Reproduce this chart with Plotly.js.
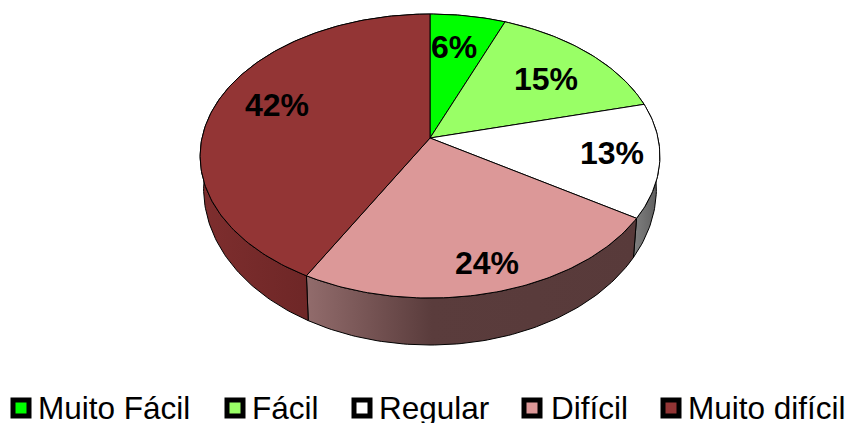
<!DOCTYPE html>
<html>
<head>
<meta charset="utf-8">
<script src="https://cdn.plot.ly/plotly-3.0.1.min.js"></script>
<style>html,body{margin:0;padding:0;background:#fff}#chart{width:851px;height:423px}</style>
</head>
<body>
<div id="chart"></div>
<script>
// Survey answers, percent of respondents
const categories = ['Muito Fácil', 'Fácil', 'Regular', 'Difícil', 'Muito difícil'];
const values = [6, 15, 13, 24, 42];
const faceColors = ['#00FF00', '#99FF66', '#FFFFFF', '#DC9898', '#933535'];

// Side wall shading per slice, left to right
const wallScales = [
  [[0, '#008800'], [1, '#006600']],
  [[0, '#557f33'], [1, '#446622']],
  [[0, '#808080'], [1, '#5c5c5c']],
  [[0, '#926c6c'], [0.38, '#5a3c3c'], [1, '#583a3a']],
  [[0, '#7e2e2e'], [1, '#5c1e1e']]
];

// Percent label and key placement
const labelX = [454, 546, 612, 487, 277];
const labelY = [47, 79, 153, 263, 105];
const keyX = [21, 235, 362, 532, 671];
const keyTextX = [36, 250, 377, 549, 686];
const keyY = 408;

// Tilted disc: projection of a unit circle onto the page
const apexX = 430, apexY = 138, radiusX = 228, radiusY = 139.7, tilt = 0.127;
function topRim(turn) {
  const a = turn * 2 * Math.PI, u = Math.sin(a), v = Math.cos(a), d = 1 + tilt * v;
  return [apexX + radiusX * u / d, apexY - radiusY * v / d, v];
}
function bottomRim(turn) {
  const [x, y, v] = topRim(turn);
  return [apexX + (x - apexX) * 0.985, y + 30 - 17 * v];
}
function arc(rim, from, to) {
  const n = Math.max(2, Math.ceil((to - from) * 360)), pts = [];
  for (let i = 0; i <= n; i++) pts.push(rim(from + (to - from) * i / n));
  return pts;
}

const total = values.reduce((s, v) => s + v, 0);
let running = 0;
const spans = values.map(v => { const s = [running / total, (running + v) / total]; running += v; return s; });

const walls = spans.map(([from, to], i) => {
  const pts = arc(topRim, from, to).concat(arc(bottomRim, from, to).reverse());
  pts.push(pts[0]);
  return {
    type: 'scatter', mode: 'lines', x: pts.map(p => p[0]), y: pts.map(p => p[1]),
    fill: 'toself', fillgradient: {type: 'horizontal', colorscale: wallScales[i]},
    line: {color: '#000', width: 1}, hoverinfo: 'skip'
  };
});

const faces = spans.map(([from, to], i) => {
  const pts = [[apexX, apexY]].concat(arc(topRim, from, to), [[apexX, apexY]]);
  return {
    type: 'scatter', mode: 'lines', x: pts.map(p => p[0]), y: pts.map(p => p[1]),
    fill: 'toself', fillcolor: faceColors[i], line: {color: '#000', width: 1},
    name: categories[i], hoverinfo: 'name'
  };
});

const keys = {
  type: 'scatter', mode: 'markers', x: keyX, y: keyX.map(() => keyY), hoverinfo: 'skip',
  marker: {symbol: 'square', size: 16, color: faceColors, line: {color: '#000', width: 5}}
};

const annotations = values.map((v, i) => ({
  x: labelX[i], y: labelY[i], text: '<b>' + v + '%</b>', showarrow: false,
  font: {family: 'Liberation Sans, Arial, sans-serif', size: 32, color: '#000'}
})).concat(categories.map((c, i) => ({
  x: keyTextX[i], y: keyY, text: c, showarrow: false, xanchor: 'left',
  font: {family: 'Liberation Sans, Arial, sans-serif', size: 31.5, color: '#000'}
})));

const hidden = {visible: false, fixedrange: true};
Plotly.newPlot('chart', walls.concat(faces, [keys]), {
  width: 851, height: 423, margin: {l: 0, r: 0, t: 0, b: 0},
  paper_bgcolor: '#fff', plot_bgcolor: '#fff', showlegend: false,
  xaxis: Object.assign({range: [0, 851]}, hidden),
  yaxis: Object.assign({range: [423, 0]}, hidden),
  annotations: annotations
}, {displayModeBar: false, staticPlot: true});
</script>
</body>
</html>
